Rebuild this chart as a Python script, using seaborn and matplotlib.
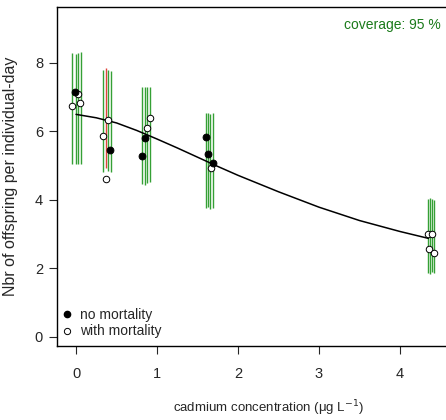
import numpy as np
import pandas as pd
import matplotlib
matplotlib.use("Agg")
import matplotlib.pyplot as plt
import seaborn as sns
from matplotlib.lines import Line2D

# ---- data ----
filled_x = [-0.01, 0.42, 0.82, 0.85, 1.605, 1.63, 1.69]
filled_y = [7.14, 5.47, 5.29, 5.82, 5.85, 5.34, 5.07]

open_x = [0.02, -0.05, 0.05, 0.33, 0.39, 0.37, 0.88, 0.91, 1.67, 4.34, 4.40, 4.36, 4.42]
open_y = [7.10, 6.74, 6.84, 5.88, 6.34, 4.61, 6.11, 6.40, 4.93, 3.00, 3.00, 2.57, 2.44]

ci_x = [-0.046, -0.004, 0.02, 0.058,
        0.33, 0.37, 0.39, 0.43,
        0.82, 0.85, 0.88, 0.91,
        1.61, 1.63, 1.66, 1.69,
        4.34, 4.37, 4.40, 4.42]
ci_lo = [5.05, 5.05, 5.05, 5.05,
         4.83, 4.93, 4.85, 4.83,
         4.48, 4.45, 4.50, 4.52,
         3.77, 3.80, 3.75, 3.78,
         1.87, 1.85, 1.90, 1.88]
ci_hi = [8.30, 8.25, 8.28, 8.32,
         7.80, 7.84, 7.80, 7.78,
         7.31, 7.29, 7.30, 7.31,
         6.53, 6.55, 6.52, 6.53,
         4.02, 4.05, 4.04, 4.00]
ci_ok = [True, True, True, True,
         True, False, True, True,
         True, True, True, True,
         True, True, True, True,
         True, True, True, True]

curve_x = [0, 0.25, 0.5, 0.75, 1.0, 1.25, 1.5, 1.75, 2.0, 2.5, 3.0, 3.5, 4.0, 4.35]
curve_y = [6.50, 6.40, 6.25, 6.03, 5.78, 5.52, 5.25, 4.98, 4.72, 4.24, 3.79, 3.40, 3.08, 2.88]

x_ticks = [0, 1, 2, 3, 4]
y_ticks = [0, 2, 4, 6, 8]

# ---- plotting ----
sns.set_style("ticks")
plt.rcParams['font.family'] = ['Liberation Sans', 'DejaVu Sans']

fig = plt.figure(figsize=(4.46, 4.2), dpi=100)
ax = fig.add_axes([57/446, 74/420, 422/446, 339/420])

green = "#35A035"
red = "#E0443C"
for x, lo, hi, ok in zip(ci_x, ci_lo, ci_hi, ci_ok):
    ax.vlines(x, lo, hi, color=green if ok else red, lw=1.0, zorder=1)

curve = pd.DataFrame({"x": curve_x, "y": curve_y})
sns.lineplot(data=curve, x="x", y="y", color="black", lw=1.1, ax=ax, zorder=2)

dfo = pd.DataFrame({"x": open_x, "y": open_y})
dff = pd.DataFrame({"x": filled_x, "y": filled_y})
sns.scatterplot(data=dfo, x="x", y="y", ax=ax, marker="o", s=22,
                facecolor="white", edgecolor="black", linewidth=0.7, zorder=3)
sns.scatterplot(data=dff, x="x", y="y", ax=ax, marker="o", s=24,
                color="black", edgecolor="black", linewidth=0.7, zorder=4)

ax.set_xlim(-0.235, 4.975)
ax.set_ylim(-0.263, 9.635)
ax.set_xticks(x_ticks)
ax.set_yticks(y_ticks)
ax.tick_params(axis="both", length=6, width=0.8, labelsize=10.5, direction="out")
ax.tick_params(axis="x", pad=9)
ax.tick_params(axis="y", pad=4)
for s in ["left", "bottom", "top"]:
    ax.spines[s].set_linewidth(1.0)
    ax.spines[s].set_color("black")
ax.spines["right"].set_visible(False)

ax.set_xlabel("cadmium concentration (μg L$^{-1}$)", fontsize=9.5, labelpad=13)
ax.set_ylabel("Nbr of offspring per individual-day", fontsize=11.5, labelpad=12)

handles = [Line2D([], [], ls="none", marker="o", mfc="black", mec="black", ms=4.5),
           Line2D([], [], ls="none", marker="o", mfc="white", mec="black", ms=4.5, mew=0.7)]
ax.legend(handles, ["no mortality", "with mortality"], loc="lower left",
          bbox_to_anchor=(56/446, 76/420), bbox_transform=fig.transFigure,
          frameon=False, fontsize=10, handlelength=0.8, handletextpad=0.5,
          labelspacing=0.2, borderaxespad=0)

fig.text(441/446, 1 - 25/420, "coverage: 95 %", color="#1A7A1A", fontsize=10,
         ha="right", va="center")

fig.savefig("out.png", dpi=100)
